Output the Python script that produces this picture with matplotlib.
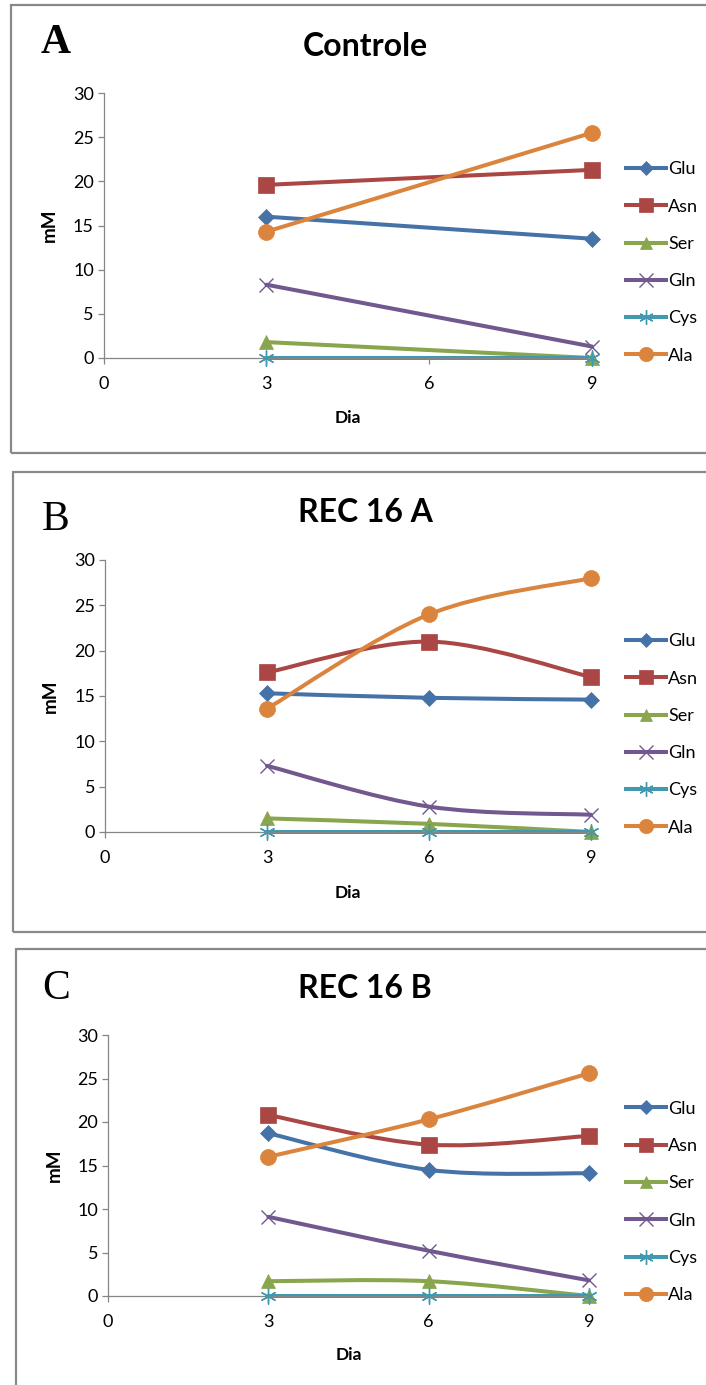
import matplotlib
matplotlib.use("Agg")
import matplotlib.pyplot as plt
from matplotlib.path import Path
from matplotlib.patches import PathPatch, Rectangle
from matplotlib.lines import Line2D

# ---- data ----
series = ["Glu", "Asn", "Ser", "Gln", "Cys", "Ala"]

days_a = [3, 9]
glu_a = [16.0, 13.5]
asn_a = [19.6, 21.3]
ser_a = [1.8, 0.0]
gln_a = [8.3, 1.3]
cys_a = [0.0, 0.0]
ala_a = [14.3, 25.5]

days_b = [3, 6, 9]
glu_b = [15.3, 14.8, 14.6]
asn_b = [17.6, 21.0, 17.1]
ser_b = [1.5, 0.9, 0.0]
gln_b = [7.3, 2.8, 1.9]
cys_b = [0.0, 0.0, 0.0]
ala_b = [13.6, 24.0, 28.0]

days_c = [3, 6, 9]
glu_c = [18.7, 14.5, 14.1]
asn_c = [20.8, 17.4, 18.4]
ser_c = [1.7, 1.7, 0.0]
gln_c = [9.1, 5.2, 1.8]
cys_c = [0.0, 0.0, 0.0]
ala_c = [16.0, 20.3, 25.6]

x_ticks = [0, 3, 6, 9]
y_ticks = [0, 5, 10, 15, 20, 25, 30]

# ---- styles ----
colors = ["#4572A7", "#AA4643", "#89A54E", "#71588F", "#4198AF", "#DB843D"]
markers = ["D", "s", "^", "x", (6, 2, 0), "o"]
msizes = [8, 11, 10, 10.5, 11.5, 11.5]
LW = 2.9
FONT = "Lato"
W, H = 706, 1385

plt.rcParams["font.family"] = [FONT, "DejaVu Sans"]


def smooth_path(xs, ys):
    # Excel-style smoothed line: cubic Bezier through the points
    pts = list(zip(xs, ys))
    verts = [pts[0]]
    codes = [Path.MOVETO]
    n = len(pts)
    for i in range(n - 1):
        p0 = pts[i - 1] if i > 0 else pts[i]
        p1 = pts[i]
        p2 = pts[i + 1]
        p3 = pts[i + 2] if i + 2 < n else pts[i + 1]
        c1 = (p1[0] + (p2[0] - p0[0]) / 6, p1[1] + (p2[1] - p0[1]) / 6)
        c2 = (p2[0] - (p3[0] - p1[0]) / 6, p2[1] - (p3[1] - p1[1]) / 6)
        verts += [c1, c2, p2]
        codes += [Path.CURVE4] * 3
    return Path(verts, codes)


def is_thin(m):
    return m == "x" or isinstance(m, tuple)


def panel(rect, letter, title, days, values, letter_y, title_y, box, legend_y):
    ax = fig.add_axes(rect)
    for name, vals, c, m, ms in zip(series, values, colors, markers, msizes):
        ax.add_patch(PathPatch(smooth_path(days, vals), fill=False, edgecolor=c,
                               lw=LW, capstyle="round", joinstyle="round", clip_on=False))
        ax.plot(days, vals, linestyle="none", marker=m, markersize=ms, color=c,
                markeredgewidth=1.0 if is_thin(m) else 0.5, clip_on=False, zorder=3)

    ax.set_xlim(0, 9)
    ax.set_ylim(0, 30)
    ax.set_xticks(x_ticks)
    ax.set_yticks(y_ticks)
    for s in ("top", "right"):
        ax.spines[s].set_visible(False)
    for s in ("left", "bottom"):
        ax.spines[s].set_color("#868686")
        ax.spines[s].set_linewidth(0.9)
    ax.tick_params(axis="both", direction="out", length=4, width=0.9, color="#868686",
                   labelsize=13, labelcolor="black")
    ax.tick_params(axis="x", pad=9)
    ax.tick_params(axis="y", pad=3)

    ax.set_xlabel("Dia", fontsize=12.5, fontweight="bold", va="center")
    ax.set_ylabel("mM", fontsize=13.5, fontweight="bold", va="center")
    ax.xaxis.set_label_coords(0.5, -0.225)
    ax.yaxis.set_label_coords(-0.112, 0.5)

    handles = [Line2D([], [], color=c, lw=LW, marker=m, markersize=ms * 0.9,
                      markeredgewidth=1.0 if is_thin(m) else 0.5)
               for c, m, ms in zip(colors, markers, msizes)]
    ax.legend(handles, series, loc="center left",
              bbox_to_anchor=(626 / W, 1 - legend_y / H), bbox_transform=fig.transFigure,
              frameon=False, fontsize=13, handlelength=2.2, handletextpad=0.15,
              labelspacing=1.18, borderpad=0, borderaxespad=0)

    fig.text(56 / W, 1 - letter_y / H, letter, fontsize=30, family="Liberation Serif",
             fontweight="bold" if letter == "A" else "normal", ha="center", va="center")
    fig.text(365 / W, 1 - title_y / H, title, fontsize=23, fontweight="bold",
             ha="center", va="center")

    x0, y0, y1 = box
    fig.add_artist(Rectangle((x0 / W, 1 - y1 / H), (W + 20 - x0) / W, (y1 - y0) / H,
                             transform=fig.transFigure, fill=False,
                             edgecolor="#898989", lw=1.6))
    return ax


fig = plt.figure(figsize=(W / 100, H / 100), dpi=100)

panel([103.6 / W, 1 - 358 / H, 488.4 / W, 265 / H], "A", "Controle", days_a,
      [glu_a, asn_a, ser_a, gln_a, cys_a, ala_a], 43, 47, (10.5, 5, 453), 262.5)
panel([105 / W, 1 - 832 / H, 486 / W, 272 / H], "B", "REC 16 A", days_b,
      [glu_b, asn_b, ser_b, gln_b, cys_b, ala_b], 520, 513, (12.5, 472, 932), 734.5)
panel([108 / W, 1 - 1296 / H, 481 / W, 261 / H], "C", "REC 16 B", days_c,
      [glu_c, asn_c, ser_c, gln_c, cys_c, ala_c], 989, 988, (15.5, 949, H + 20), 1202)

fig.savefig("out.png", dpi=100)
